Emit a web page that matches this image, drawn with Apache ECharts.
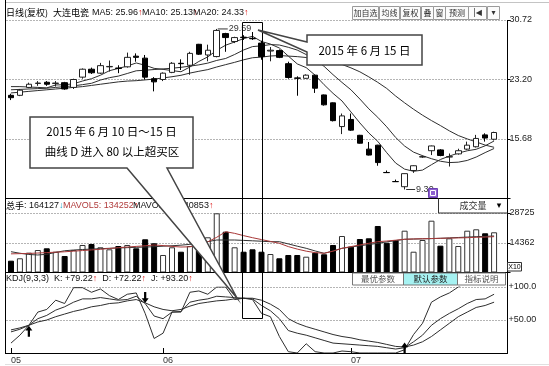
<!DOCTYPE html>
<html><head><meta charset="utf-8">
<script src="https://cdn.jsdelivr.net/npm/echarts@6/dist/echarts.min.js"></script>
<style>html,body{margin:0;padding:0;background:#fff}#c{width:549px;height:366px}</style>
</head><body><div id="c"></div>
<script>
// ---------- data ----------
const dates = ['2015-05-07','2015-05-08','2015-05-11','2015-05-12','2015-05-13','2015-05-14','2015-05-15','2015-05-18','2015-05-19','2015-05-20','2015-05-21','2015-05-22','2015-05-25','2015-05-26','2015-05-27','2015-05-28','2015-05-29',
'2015-06-01','2015-06-02','2015-06-03','2015-06-04','2015-06-05','2015-06-08','2015-06-09','2015-06-10','2015-06-11','2015-06-12','2015-06-15','2015-06-16','2015-06-17','2015-06-18','2015-06-19','2015-06-23','2015-06-24','2015-06-25','2015-06-26','2015-06-29','2015-06-30',
'2015-07-01','2015-07-02','2015-07-03','2015-07-06','2015-07-07','2015-07-08','2015-07-09','2015-07-10','2015-07-13','2015-07-14','2015-07-15','2015-07-16','2015-07-17','2015-07-20','2015-07-21','2015-07-22','2015-07-23'];
const opens  = [21.2,21.2,22.2,22.7,22.85,22.7,22.8,22.2,23.5,24.5,24.0,24.8,24.65,24.8,26.15,25.9,23.3,23.2,24.1,25.25,25.0,27.65,26.3,26.1,29.0,28.0,28.55,28.4,27.8,26.8,26.85,25.2,23.4,23.35,23.75,21.25,20.25,17.25,18.15,16.15,14.4,14.9,11.45,10.30,9.65,11.7,13.4,14.2,14.3,13.4,13.8,14.4,14.7,16.2,15.65];
const closes = [20.9,21.85,22.6,22.75,22.6,22.75,22.0,23.2,24.5,24.05,24.95,24.85,24.6,26.0,26.0,23.5,22.9,24.0,25.25,25.2,26.5,26.4,26.9,29.4,28.5,28.5,28.5,28.35,26.1,26.9,26.0,23.45,23.35,23.75,22.1,20.0,18.0,18.6,16.8,15.15,13.65,12.7,11.43,10.29,11.3,12.3,13.45,14.8,13.6,13.45,14.2,14.9,15.75,15.8,16.5];
const lows   = [20.6,21.1,22.1,22.4,22.4,22.3,21.9,22.0,23.3,23.9,23.9,24.2,24.0,24.7,25.45,23.2,21.7,23.0,24.0,24.4,23.8,26.3,25.5,26.0,26.7,27.8,28.2,28.2,25.7,25.5,25.9,23.3,21.15,23.3,21.5,19.9,17.9,16.3,16.7,15.1,13.6,12.3,11.43,10.29,9.30,11.4,13.3,13.65,13.5,12.2,13.7,14.3,14.6,15.35,15.5];
const highs  = [21.4,22.0,22.8,23.0,23.0,23.0,22.9,23.3,24.6,24.7,25.3,25.6,25.0,26.6,26.5,26.3,23.5,24.1,25.4,25.75,26.7,27.7,27.6,29.59,29.1,28.6,28.8,29.2,28.1,27.3,27.0,25.45,23.6,23.85,23.8,21.3,20.3,18.9,18.9,16.2,15.3,14.95,11.7,10.55,11.32,12.35,13.6,14.85,14.4,13.85,14.45,15.35,16.2,16.4,16.6];
const ma5  = [22.3,22.3,22.25,22.2,22.14,22.51,22.54,22.66,23.01,23.3,23.74,24.31,24.6,24.9,25.29,25.0,24.61,24.48,24.33,24.18,24.78,25.48,26.06,26.89,27.54,27.94,28.37,28.66,28.0,27.68,27.18,26.16,25.17,24.7,23.74,22.54,21.45,20.49,19.1,17.71,16.44,15.38,13.95,12.64,11.87,11.6,11.75,12.43,13.09,13.52,13.9,14.19,14.38,14.82,15.43];
const ma10 = [21.9,21.95,22.0,22.05,22.1,22.2,22.3,22.4,22.55,22.72,23.13,23.43,23.63,23.96,24.3,24.37,24.46,24.54,24.62,24.74,24.89,25.05,25.27,25.61,25.86,26.36,26.93,27.36,27.45,27.61,27.56,27.27,26.92,26.35,25.71,24.86,23.81,22.83,21.9,20.73,19.49,18.42,17.22,15.87,14.79,14.02,13.57,13.19,12.87,12.7,12.75,12.97,13.4,13.96,14.48];
const ma20 = [21.5,21.6,21.7,21.8,21.9,22.0,22.1,22.2,22.3,22.45,22.6,22.75,22.9,23.0,23.05,23.15,23.25,23.4,23.55,23.73,24.01,24.24,24.45,24.78,25.08,25.37,25.69,25.95,26.03,26.17,26.23,26.16,26.09,25.98,25.79,25.61,25.37,25.1,24.67,24.17,23.53,22.84,22.07,21.11,20.25,19.44,18.69,18.01,17.38,16.71,16.12,15.69,15.31,14.91,14.63];
const volumes = [5700,6860,9560,10860,11680,10040,7970,10860,13280,13760,12170,11200,12790,13280,11680,16030,14100,8450,12170,10040,12790,10860,17000,28580,19700,12170,10040,11200,10040,8930,6860,8450,8450,7630,9560,8790,13280,17620,12460,16170,16510,22450,14390,15690,20180,10040,15690,25010,12940,16510,12790,20180,20860,18930,19410];
const mavol5  = [9000,9100,9200,9400,9600,9800,10000,10300,10600,10900,11200,11600,12000,12300,12600,12900,13280,13000,12600,12300,12400,13280,14800,17000,19700,18900,17800,16800,15900,15000,14100,12500,11300,10300,9600,9270,10300,11680,12500,13300,14100,14870,15200,15600,16030,16200,16300,16400,16510,16600,16700,16800,17000,17100,17300];
const mavol10 = [10040,9300,8700,8450,8800,9700,10500,10860,11100,11300,11500,11680,11850,12000,12150,12300,12460,12700,12900,13200,13600,14100,14900,15690,15690,15690,15500,15300,15100,14870,14870,13800,12700,11680,10400,9270,10400,11680,12300,12900,13500,14100,14800,15400,16030,16150,16250,16350,16510,16700,16900,17100,17300,17450,17620];
const kLine = [32,36,42,52,57,65,70,77,82,82,84,82,80,81,86,75,56,52,62,63,77,80,82,86,85,84,83,82,72,64,52,34,30,27,23,19,15,14,13,12,11,10,8,6,8,17,27,42,52,60,67,75,81,82,89];
const dLine = [35,38,42,47,50,55,59,63,66,70,72,75,76,79,81,76,70,66,64,66,71,75,77,79,80,82,83,83,80,74,66,52,45,40,36,32,28,25,23,20,18,16,13,10,9,12,17,25,35,45,55,62,69,72,77];
const jLine = [15,27,42,62,66,80,75,99,99,92,97,87,81,89,91,60,22,30,62,62,92,94,89,100,100,81,83,81,60,55,25,2,0,14,2,0,0,3,2,0,0,0,0,0,5,28,45,77,85,91,100,108,115,110,115];
const priceTicks = [30.72, 23.20, 15.68];
const volTicks = [28725, 14362];
const kdjTicks = [[100,'+100.0'],[50,'+50.00']];
const highIdx = 23, lowIdx = 44;
const arrowMarks = [[2, 33, 'up'], [15, 84, 'down'], [44, 7.5, 'up']];

// ---------- chart ----------
const chart = echarts.init(document.getElementById('c'), null, {renderer:'canvas'});
const cats = dates.concat(['']);
const candleData = opens.map((o,i)=>[o, closes[i], lows[i], highs[i]]);
const volData = volumes.map((v,i)=>({value:v, itemStyle: closes[i] >= opens[i] ? {color:'#fff', borderColor:'#333', borderWidth:1} : {color:'#000', borderColor:'#000', borderWidth:1}}));
const isMonthStart = (i) => i === 0 || (i < dates.length && dates[i].slice(5,7) !== dates[i-1].slice(5,7));
const LAT = '"Liberation Sans", Arial, sans-serif';
const CJK = '"Noto Sans CJK SC", sans-serif';
const UP = 'path://M5,0 L10,6 L6.6,6 L6.6,14 L3.4,14 L3.4,6 L0,6 Z';
const DOWN = 'path://M3.4,0 L6.6,0 L6.6,8 L10,8 L5,14 L0,8 L3.4,8 Z';

const GL = 6.5, GR = 41.5;
const xBase = (gi) => ({type:'category', gridIndex:gi, data:cats, boundaryGap:true,
  axisLine:{show:false}, axisTick:{show:false}, axisLabel:{show:false}, splitLine:{show:false}});
const dotted = {show:true, lineStyle:{type:[1,2], color:'#6a6a6a', width:1}};
const lineS = (data, color, xi, yi) => ({type:'line', data, xAxisIndex:xi, yAxisIndex:yi, symbol:'none', silent:true,
  lineStyle:{color, width:1}, z:3});

const xAxisKdj = Object.assign(xBase(2), {
  axisLine:{show:true, lineStyle:{color:'#000', width:1}},
  axisTick:{show:true, inside:true, length:5, alignWithLabel:true, interval:(i)=>isMonthStart(i), lineStyle:{color:'#000'}},
  axisLabel:{show:true, interval:(i)=>isMonthStart(i), formatter:(v)=> v ? v.slice(5,7) : '', align:'left',
    fontSize:9, color:'#333', fontFamily:LAT, margin:3}
});

chart.setOption({
  animation:false,
  backgroundColor:'#fff',
  grid:[
    {left:GL, right:GR, top:20, height:178.5},
    {left:GL, right:GR, top:213, height:59.5},
    {left:GL, right:GR, top:287, height:66}
  ],
  xAxis:[xBase(0), xBase(1), xAxisKdj],
  yAxis:[
    {type:'value', gridIndex:0, position:'right', min:8.16, max:30.72, interval:7.52, scale:true,
     axisLine:{show:false}, axisTick:{show:true, length:3, lineStyle:{color:'#000'}},
     axisLabel:{fontSize:9, color:'#222', fontFamily:LAT, margin:2,
       formatter:(v)=>{const t = priceTicks.find(p=>Math.abs(p-v)<0.01); return t===undefined ? '' : t.toFixed(2);}},
     splitLine:dotted},
    {type:'value', gridIndex:1, position:'right', min:0, max:28725, interval:14362.5,
     axisLine:{show:false}, axisTick:{show:true, length:3, lineStyle:{color:'#000'}},
     axisLabel:{fontSize:9, color:'#222', fontFamily:LAT, margin:2,
       formatter:(v)=>{const t = volTicks.find(p=>Math.abs(p-v)<1); return t===undefined ? '' : String(t);}},
     splitLine:dotted},
    {type:'value', gridIndex:2, position:'right', min:0, max:100, interval:50,
     axisLine:{show:false}, axisTick:{show:false},
     axisLabel:{fontSize:9, color:'#222', fontFamily:LAT, margin:1,
       formatter:(v)=>{const t = kdjTicks.find(p=>Math.abs(p[0]-v)<0.01); return t===undefined ? '' : t[1];}},
     splitLine:dotted}
  ],
  series:[
    {type:'candlestick', xAxisIndex:0, yAxisIndex:0, data:candleData, barWidth:6, z:4,
     itemStyle:{color:'#fff', color0:'#000', borderColor:'#222', borderColor0:'#000', borderWidth:1},
     markPoint:{symbol:'rect', silent:true, itemStyle:{color:'#333'},
       label:{show:true, position:'right', distance:1, color:'#333', fontSize:9, fontFamily:LAT, formatter:(p)=>p.value},
       data:[
         {coord:[highIdx, highs[highIdx]], value:highs[highIdx].toFixed(2), symbolSize:[10,1], symbolOffset:[6,0]},
         {coord:[lowIdx, lows[lowIdx]], value:lows[lowIdx].toFixed(2), symbolSize:[9,1], symbolOffset:[6,0]}
       ]}},
    lineS(ma5, '#2e2e2e', 0, 0),
    lineS(ma10, '#2e2e2e', 0, 0),
    lineS(ma20, '#2e2e2e', 0, 0),
    {type:'bar', xAxisIndex:1, yAxisIndex:1, data:volData, barWidth:6, silent:true},
    lineS(mavol10, '#333', 1, 1),
    lineS(mavol5, '#a83838', 1, 1),
    Object.assign(lineS(kLine, '#2e2e2e', 2, 2), {
      markPoint:{silent:true, itemStyle:{color:'#000'}, label:{show:false},
        data: arrowMarks.map(a=>({coord:[a[0], a[1]], symbol: a[2]==='up' ? UP : DOWN, symbolSize:[7,11]}))}}),
    lineS(dLine, '#2e2e2e', 2, 2),
    lineS(jLine, '#2e2e2e', 2, 2)
  ]
});

// ---------- annotations / frame ----------
const G = [];
const line = (x1,y1,x2,y2,stroke,w,z)=>({type:'line', silent:true, z:z||60, shape:{x1,y1,x2,y2}, style:{stroke:stroke||'#000', lineWidth:w||1}});
const txt = (x,y,text,font,fill,align,rich,z)=>({type:'text', silent:true, z:z||61, x, y,
  style:{text, font, fill:fill||'#000', textAlign:align||'left', textVerticalAlign:'middle', align:align||'left', verticalAlign:'middle', rich}});
const rectE = (x,y,w,h,fill,stroke,z)=>({type:'rect', silent:true, z:z||60, shape:{x,y,width:w,height:h}, style:{fill:fill||'none', stroke:stroke||'#000', lineWidth:1}});

// frame lines
G.push(line(5,2.5,549,2.5,'#c4c4c4',1));
G.push(line(5.5,0,5.5,353,'#000',1));
G.push(line(507.5,20,507.5,353,'#000',1));
G.push(line(5,198.5,507.5,198.5,'#000',1));
G.push(line(5,272.5,507.5,272.5,'#000',1));
G.push(line(5,353.5,507.5,353.5,'#000',1));
G.push(line(5,364.5,549,364.5,'#e0e0e0',1));

// header
const R = {r:{fill:'#e02020', font:'9px '+LAT}};
G.push(txt(6,13,'日线(复权)','9px '+CJK,'#000'));
G.push(txt(53,13,'大连电瓷','9px '+CJK,'#000'));
G.push(txt(92,13,'MA5: 25.96{r|↑}','9px '+LAT,'#111','left',R));
G.push(txt(142,13,'MA10: 25.13{r|↑}','9px '+LAT,'#111','left',R));
G.push(txt(193,13,'MA20: 24.33{r|↑}','9px '+LAT,'#111','left',R));
const btns = [[352,26,'加自选'],[379,20,'均线'],[400,20,'复权'],[421,12,'叠'],[433,12,'窗'],[445,23,'预测'],[468,18,'|◀'],[487,12,'▾']];
btns.forEach(b=>{
  G.push(rectE(b[0]+0.5,6.5,b[1],13,'#fbfbfb','#9a9a9a'));
  G.push(txt(b[0]+0.5+b[1]/2,13.2,b[2],(b[2]==='|◀'||b[2]==='▾' ? '8px "DejaVu Sans"' : '8px '+CJK),'#333','center'));
});

// volume header
const RV = {c:{font:'9px '+CJK, fill:'#000'}, m:{font:'9px '+LAT, fill:'#111'}, b:{font:'9px '+LAT, fill:'#1aa0c8'}, a:{font:'9px '+LAT, fill:'#e02020'}, r:{font:'9px '+LAT, fill:'#b03a3a'}};
G.push(txt(6,205.5,'{c|总手}{m|: 164127}{b|↓}',null,'#000','left',RV));
G.push(txt(63,205.5,'{r|MAVOL5: 134252}{a|↑}',null,'#000','left',RV));
G.push(txt(133,205.5,'{m|MAVOL10: 140853}{a|↑}',null,'#000','left',RV));
G.push(rectE(438.5,198.5,68.5,14.5,'#fff','none',59));
G.push(line(438.5,198.5,438.5,213,'#333',1));
G.push(line(438.5,213,507.5,213,'#333',1));
G.push(txt(473,206,'成交量','9px '+CJK,'#333','center'));
G.push(txt(499,205.5,'▾','9px "DejaVu Sans"','#000','center'));
G.push(rectE(507.5,262.5,14,8.5,'#fff','#333'));
G.push(txt(514.5,267,'X10','7px '+LAT,'#000','center'));

// KDJ header
const RK = {m:{font:'9px '+LAT, fill:'#111'}, a:{font:'9px '+LAT, fill:'#e02020'}};
G.push(txt(6,279,'{m|KDJ(9,3,3)  K: +79.22}{a|↑}{m|  D: +72.22}{a|↑}{m|  J: +93.20}{a|↑}',null,'#000','left',RK));
[[352.5,51,'最优参数','#fff','#555'],[403.5,54,'默认参数','#a6f2f2','#222'],[457.5,48,'指标说明','#fff','#555']].forEach(b=>{
  G.push(rectE(b[0],273,b[1],12,b[3],'#777'));
  G.push(txt(b[0]+b[1]/2,279.2,b[2],'8.5px '+CJK,b[4],'center'));
});

// purple icon under the low
G.push(rectE(428.5,188.5,9,9,'#8d5fcf','#6b3fb0',62));
G.push(rectE(430.5,190.5,5,5,'none','#fff',63));

// callout 1
G.push({type:'polygon', silent:true, z:70, shape:{points:[[30,117],[193,117],[193,168],[167,168],[237,298],[127,168],[30,168]]},
  style:{fill:'#fff', stroke:'#444', lineWidth:1.5, lineJoin:'miter'}});
G.push(txt(111.5,131.5,'2015 年 6 月 10 日～15 日','11.5px '+CJK,'#000','center',null,71));
G.push(txt(112,151.5,'曲线 D 进入 80 以上超买区','11.5px '+CJK,'#000','center',null,71));
// callout 2
G.push({type:'polygon', silent:true, z:70, shape:{points:[[307,35],[422,35],[422,65],[307,65],[307,52],[258,30],[307,42]]},
  style:{fill:'#fff', stroke:'#444', lineWidth:1.5, lineJoin:'miter'}});
G.push(txt(364.5,50.5,'2015 年 6 月 15 日','11.5px '+CJK,'#000','center',null,71));

// highlight rectangle spanning the period (positions from the axes)
const xL = chart.convertToPixel({xAxisIndex:0}, 26) - 1.5;
const xR = chart.convertToPixel({xAxisIndex:0}, 28) + 0.5;
const yT = chart.convertToPixel({yAxisIndex:0}, 30.5);
const yB = chart.convertToPixel({yAxisIndex:2}, 53);
G.push({type:'rect', silent:true, z:65, shape:{x:Math.round(xL)+0.5, y:Math.round(yT)+0.5, width:Math.round(xR-xL), height:Math.round(yB-yT)},
  style:{fill:'none', stroke:'#000', lineWidth:1}});

chart.setOption({graphic:{elements:G}});
</script>
</body></html>
